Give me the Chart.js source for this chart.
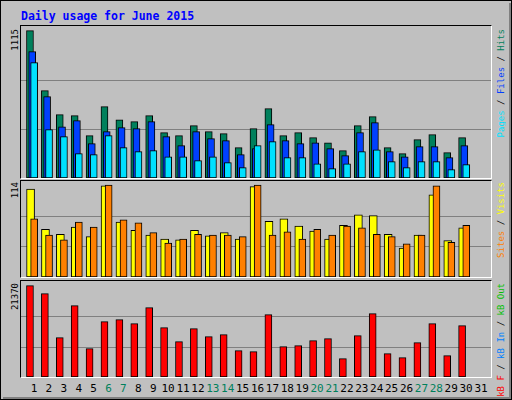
<!DOCTYPE html>
<html>
<head>
<meta charset="utf-8">
<script src="https://cdn.jsdelivr.net/npm/chart.js@4"></script>
<style>
  body { margin: 0; background: #fff; }
  #wrap { position: relative; width: 510px; height: 398px; background: #c0c0c0; border: 1px solid #000; font-family: "DejaVu Sans Mono", monospace; }
  #wrap::after { content: ''; position: absolute; right: 0; bottom: 0; left: 2px; top: 2px; border-right: 2px solid #808080; border-bottom: 2px solid #808080; pointer-events: none; }
  .panel { position: absolute; left: 19px; width: 470px; border: 1px solid #000; border-right-color: #fff; border-bottom-color: #fff; }
  .panel canvas { display: block; }
  .vt { position: absolute; writing-mode: vertical-rl; transform: rotate(180deg); font-size: 9px; white-space: nowrap; line-height: 10px; }
  #title { position: absolute; left: 20px; top: 8px; color: #0000ff; font-weight: bold; font-size: 11.5px; }
  .day { position: absolute; top: 381px; font-size: 11px; width: 16px; text-align: center; }
</style>
</head>
<body>
<div id="wrap">
  <div id="title">Daily usage for June 2015</div>
  <div class="panel" style="top:24px;height:152px"><canvas id="c1"></canvas></div>
  <div class="panel" style="top:179px;height:96px"><canvas id="c2"></canvas></div>
  <div class="panel" style="top:279px;height:96px"><canvas id="c3"></canvas></div>
  <div class="vt" style="left:9px;top:28px">1115</div>
  <div class="vt" style="left:9px;top:181px">114</div>
  <div class="vt" style="left:9px;top:282px">21370</div>
  <div class="vt" style="left:495px;top:28px"><span style="color:#00e0ff">Pages</span> / <span style="color:#0040ff">Files</span> / <span style="color:#00805c">Hits</span></div>
  <div class="vt" style="left:495px;top:181px"><span style="color:#ff8000">Sites</span> / <span style="color:#ffff00">Visits</span></div>
  <div class="vt" style="left:495px;top:282px"><span style="color:#ff0000">kB F</span> / <span style="color:#0080ff">kB In</span> / <span style="color:#00c000">kB Out</span></div>
  <div id="days"></div>
</div>
<script>
const days = [1,2,3,4,5,6,7,8,9,10,11,12,13,14,15,16,17,18,19,20,21,22,23,24,25,26,27,28,29,30];
const weekendDays = [6,7,13,14,20,21,27,28];
const hits  = [1115,661,479,472,320,540,441,426,472,343,320,396,351,336,230,373,525,320,343,305,267,207,396,464,230,184,290,328,192,305];
const files = [956,616,388,434,260,351,381,373,426,313,245,351,298,283,177,222,404,283,260,267,222,169,343,419,199,161,237,237,154,245];
const pages = [873,366,313,184,177,320,230,199,207,161,161,131,161,116,78,245,275,154,154,108,71,108,199,214,124,78,124,124,63,101];
const visits = [109,59,53,62,50,113,68,58,52,47,46,58,51,55,47,112,69,72,63,57,47,64,77,76,53,36,52,102,45,61];
const sites  = [72,52,46,68,62,114,71,67,55,42,47,53,52,52,50,114,52,56,47,59,52,63,61,53,50,41,52,113,43,64];
const kbytes = [21370,19500,9200,16690,6630,12950,13420,12480,16220,11540,8270,11310,9440,9900,6160,5930,14590,7100,7330,8500,8970,4290,9670,14820,5460,4520,8030,12480,4990,12010];

// day labels along the bottom
const dayBox = document.getElementById('days');
for (let d = 1; d <= 31; d++) {
  const el = document.createElement('div');
  el.className = 'day';
  el.textContent = d;
  el.style.left = (33 + (d - 1) * 14.9 - 8) + 'px';
  el.style.color = weekendDays.includes(d) ? '#00805c' : '#000';
  dayBox.appendChild(el);
}

const gridPlugin = {
  id: 'thirds',
  beforeDatasetsDraw(chart, args, opts) {
    const ctx = chart.ctx, y = chart.scales.y, a = chart.chartArea;
    ctx.save();
    ctx.strokeStyle = '#808080';
    ctx.lineWidth = 1;
    [opts.top / 3, opts.top * 2 / 3].forEach(v => {
      const py = Math.round(y.getPixelForValue(v)) + 0.5;
      ctx.beginPath(); ctx.moveTo(a.left, py); ctx.lineTo(a.right, py); ctx.stroke();
    });
    ctx.restore();
  }
};

// order: higher number is drawn first (further back)
function series(values, shift, color, width, order) {
  return {
    data: values.map((v, i) => ({ x: days[i] + shift, y: v })),
    backgroundColor: color,
    borderColor: '#000',
    borderWidth: 1,
    borderSkipped: false,
    barThickness: width,
    grouped: false,
    order
  };
}

function makeChart(id, h, datasets, yMax, top) {
  const cv = document.getElementById(id);
  cv.width = 470; cv.height = h;
  return new Chart(cv, {
    type: 'bar',
    data: { datasets },
    plugins: [gridPlugin],
    options: {
      responsive: false,
      animation: false,
      layout: { padding: 0 },
      plugins: { legend: { display: false }, tooltip: { enabled: false }, thirds: { top } },
      scales: {
        x: { type: 'linear', min: 0.128, max: 31.67, offset: false, display: false },
        y: { min: 0, max: yMax, display: false }
      }
    }
  });
}

makeChart('c1', 152, [
  series(hits, -0.27, '#00805c', 7, 3),
  series(files, -0.12, '#0040ff', 7, 2),
  series(pages, 0.01, '#00e0ff', 7, 1)
], 1150, 1115);

makeChart('c2', 96, [
  series(visits, -0.23, '#ffff00', 8, 2),
  series(sites, 0.01, '#ff8000', 7, 1)
], 119, 114);

makeChart('c3', 96, [
  series(kbytes, -0.27, '#ff0000', 7, 1)
], 22445, 21370);
</script>
</body>
</html>
